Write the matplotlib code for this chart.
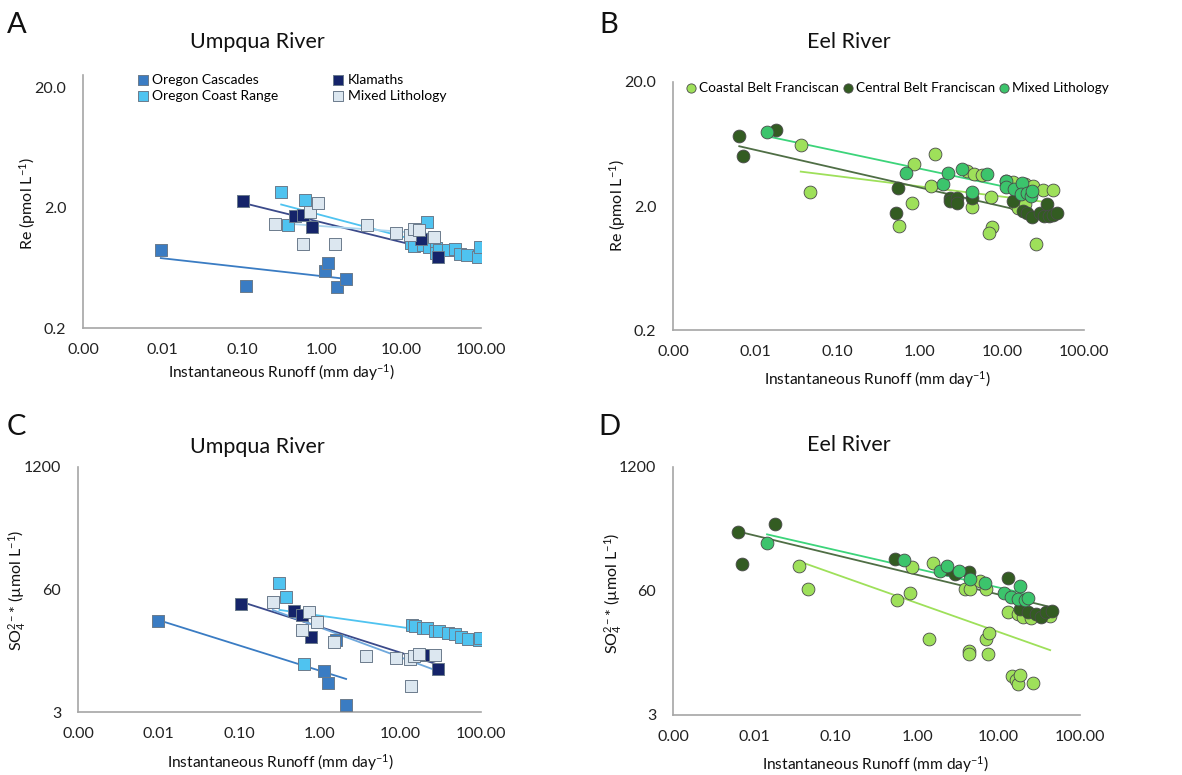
import numpy as np
import matplotlib
matplotlib.use('Agg')
import matplotlib.pyplot as plt
from matplotlib.ticker import FixedLocator, FixedFormatter, NullLocator

plt.rcParams['font.family'] = ['Lato', 'DejaVu Sans']
plt.rcParams['mathtext.fontset'] = 'custom'
plt.rcParams['mathtext.rm'] = 'Lato'
plt.rcParams['mathtext.it'] = 'Lato:italic'

# --- Panel A: Umpqua River, Re ---
a_cascades_x = [0.0095, 0.113, 1.11, 1.21, 1.54, 2.02]
a_cascades_y = [0.89, 0.45, 0.59, 0.69, 0.44, 0.51]
a_coast_x = [0.309, 0.378, 0.612, 20.8, 13.2, 14.5, 18.9, 22.3, 27.2, 27.0, 30.0, 38.2, 47.2, 55.0, 66.7, 92.7, 96.0]
a_coast_y = [2.67, 1.43, 2.29, 1.51, 1.02, 0.95, 0.97, 0.94, 0.92, 0.84, 0.89, 0.89, 0.90, 0.83, 0.80, 0.78, 0.94]
a_klamath_x = [0.103, 0.467, 0.577, 0.757, 17.7, 28.6]
a_klamath_y = [2.27, 1.70, 1.73, 1.38, 1.10, 0.78]
a_mixed_x = [0.255, 0.577, 0.72, 0.89, 1.46, 3.71, 8.57, 12.9, 14.5, 16.4, 26.0]
a_mixed_y = [1.45, 1.00, 1.82, 2.18, 0.99, 1.42, 1.22, 1.18, 1.33, 1.30, 1.13]

# --- Panel B: Eel River, Re ---
b_coastal_x = [0.0358, 0.0464, 0.86, 0.81, 0.557, 1.39, 1.56, 3.82, 4.6, 4.4, 5.8, 7.35, 7.5, 7.0,
               11.1, 13.5, 19.0, 24.0, 31.8, 42.0, 14.3, 15.7, 19.0, 26.3]
b_coastal_y = [6.2, 2.6, 4.34, 2.1, 1.37, 2.9, 5.22, 3.83, 3.6, 1.96, 3.56, 2.36, 1.35, 1.22,
               3.2, 3.1, 3.0, 2.9, 2.67, 2.67, 2.06, 1.94, 2.06, 0.99]
b_central_x = [0.0064, 0.0071, 0.0181, 0.54, 0.51, 2.33, 2.33, 2.83, 2.83, 4.3, 13.5, 18.3, 20.0,
               23.5, 28.8, 33.0, 35.6, 38.0, 41.8, 46.7]
b_central_y = [7.3, 5.06, 8.15, 2.81, 1.75, 2.33, 2.2, 2.33, 2.13, 2.33, 2.2, 1.83, 1.76,
               1.63, 1.76, 1.66, 2.06, 1.66, 1.69, 1.75]
b_mixed_x = [0.0141, 0.69, 1.9, 2.2, 3.3, 4.4, 6.6, 11.3, 11.3, 14.0, 17.6, 17.2, 20.0, 22.5, 23.0]
b_mixed_y = [7.96, 3.67, 2.99, 3.71, 4.0, 2.61, 3.64, 3.2, 2.85, 2.72, 3.09, 2.5, 2.55, 2.4, 2.64]

# --- Panel C: Umpqua River, SO4 ---
c_cascades_x = [0.0099, 1.14, 1.25, 1.61, 2.12]
c_cascades_y = [27.8, 8.1, 6.1, 17.3, 3.6]
c_coast_x = [0.316, 0.386, 0.634, 13.8, 15.2, 19.2, 21.5, 26.9, 30.4, 38.8, 47.0, 57.0, 68.7, 94.0, 96.5]
c_coast_y = [71.2, 50.0, 9.6, 25.0, 24.6, 23.6, 23.6, 21.6, 21.6, 20.5, 20.2, 19.0, 17.9, 17.4, 18.3]
c_klamath_x = [0.105, 0.474, 0.6, 0.78, 18.9, 29.6]
c_klamath_y = [42.6, 35.6, 32.0, 18.8, 12.2, 8.65]
c_mixed_x = [0.261, 0.61, 0.74, 0.93, 1.5, 3.75, 8.9, 13.3, 13.5, 14.8, 16.9, 27.1]
c_mixed_y = [44.4, 22.1, 34.7, 27.1, 16.6, 11.8, 11.3, 11.1, 5.6, 11.8, 12.3, 12.0]

# --- Panel D: Eel River, SO4 ---
d_coastal_x = [0.0357, 0.046, 0.557, 0.81, 0.87, 1.41, 1.58, 3.85, 4.5, 4.35, 4.35, 5.9, 7.1, 7.1, 7.6,
               7.4, 13.2, 14.8, 16.3, 17.1, 18.3, 17.3, 20.0, 24.8, 26.4, 43.0]
d_coastal_y = [110, 63.5, 48.3, 57.3, 108, 19.0, 119, 62.7, 63.0, 14.1, 13.2, 76.4, 63.0, 19.0, 22.0,
               13.1, 36.4, 7.7, 7.0, 6.4, 7.9, 34.6, 32.0, 31.0, 6.5, 33.0]
d_central_x = [0.0063, 0.0071, 0.0181, 0.53, 2.3, 2.9, 4.3, 13.2, 18.3, 23.0, 29.0, 33.5, 38.7, 45.5]
d_central_y = [250, 116, 306, 131, 101, 90, 94, 83, 38.5, 36.3, 34.5, 31.9, 35.9, 37.1]
d_mixed_x = [0.0143, 0.69, 1.9, 2.3, 3.3, 4.4, 6.8, 11.5, 14.1, 17.3, 18.4, 21.0, 22.9]
d_mixed_y = [193, 127, 97, 109, 97, 80, 73, 56.7, 52.4, 50.0, 68.0, 48.7, 51.0]

x_ticks = [0.001, 0.01, 0.1, 1, 10, 100]
x_tick_labels = ['0.00', '0.01', '0.10', '1.00', '10.00', '100.00']
re_ticks = [0.2, 2, 20]
re_tick_labels = ['0.2', '2.0', '20.0']
so4_ticks = [3, 60, 1200]
so4_tick_labels = ['3', '60', '1200']

# colours
COL_CASCADES = '#3a7cc3'
COL_COAST = '#4fc3f0'
COL_KLAMATH = '#15246a'
COL_MIXED_U = '#dce7f0'
COL_COASTAL = '#9ee05a'
COL_CENTRAL = '#335c22'
COL_MIXED_E = '#3cc46c'

W, H = 1182, 775
fig = plt.figure(figsize=(W / 100, H / 100), dpi=100)


def px_axes(left, right, top, bottom):
    """Axes from pixel edges."""
    return fig.add_axes([left / W, 1 - bottom / H, (right - left) / W, (bottom - top) / H])


def power_trend(ax, xs, ys, color):
    """Excel-style power trendline (linear fit in log-log) over data range."""
    lx = np.log10(xs)
    ly = np.log10(ys)
    k, q = np.polyfit(lx, ly, 1)
    xx = np.logspace(lx.min(), lx.max(), 50)
    ax.plot(xx, 10 ** (k * np.log10(xx) + q), color=color, lw=1.3, zorder=2)


def style_axes(ax, yticks, ylabels, ylim):
    ax.set_xscale('log')
    ax.set_yscale('log')
    ax.set_xlim(0.001, 100)
    ax.set_ylim(*ylim)
    ax.xaxis.set_major_locator(FixedLocator(x_ticks))
    ax.xaxis.set_major_formatter(FixedFormatter(x_tick_labels))
    ax.xaxis.set_minor_locator(NullLocator())
    ax.yaxis.set_major_locator(FixedLocator(yticks))
    ax.yaxis.set_major_formatter(FixedFormatter(ylabels))
    ax.yaxis.set_minor_locator(NullLocator())
    ax.tick_params(axis='both', length=0, labelsize=11.5, colors='#222222')
    ax.tick_params(axis='x', pad=11)
    ax.tick_params(axis='y', pad=12)
    for s in ['top', 'right']:
        ax.spines[s].set_visible(False)
    for s in ['left', 'bottom']:
        ax.spines[s].set_color('#a6a6a6')
        ax.spines[s].set_linewidth(1.2)
    ax.set_facecolor('none')


def squares(ax, xs, ys, color, label):
    ax.scatter(xs, ys, marker='s', s=85, color=color, edgecolors='#6b7b8c', linewidths=0.7,
               label=label, zorder=3)


def circles(ax, xs, ys, color, label):
    ax.scatter(xs, ys, marker='o', s=85, color=color, edgecolors='#4a4a4a', linewidths=0.6,
               label=label, zorder=3)


re_label = r'Re (pmol L$^{\mathregular{-1}}$)'
so4_label = r'SO$_{\mathregular{4}}^{\mathregular{2-}}$* (µmol L$^{\mathregular{-1}}$)'
x_label = r'Instantaneous Runoff (mm day$^{\mathregular{-1}}$)'

# Panel A
ax_a = px_axes(83, 481, 75, 328)
style_axes(ax_a, re_ticks, re_tick_labels, (0.2, 25.2))
squares(ax_a, a_cascades_x, a_cascades_y, COL_CASCADES, 'Oregon Cascades')
squares(ax_a, a_coast_x, a_coast_y, COL_COAST, 'Oregon Coast Range')
squares(ax_a, a_klamath_x, a_klamath_y, COL_KLAMATH, 'Klamaths')
squares(ax_a, a_mixed_x, a_mixed_y, COL_MIXED_U, 'Mixed Lithology')
power_trend(ax_a, a_cascades_x, a_cascades_y, COL_CASCADES)
power_trend(ax_a, a_coast_x, a_coast_y, COL_COAST)
power_trend(ax_a, a_klamath_x, a_klamath_y, '#3b4a8a')
power_trend(ax_a, a_mixed_x, a_mixed_y, '#a9d4ee')
ax_a.legend(loc='upper left', bbox_to_anchor=((137 - 83) / 398, 1.005), ncol=2, frameon=False,
            fontsize=10, handlelength=0.8, handletextpad=0.3, columnspacing=3.9,
            labelspacing=0.3, markerscale=0.72, borderaxespad=0, borderpad=0)

# Panel B
ax_b = px_axes(673, 1084, 82, 330)
style_axes(ax_b, re_ticks, re_tick_labels, (0.2, 20))
circles(ax_b, b_coastal_x, b_coastal_y, COL_COASTAL, 'Coastal Belt Franciscan')
circles(ax_b, b_central_x, b_central_y, COL_CENTRAL, 'Central Belt Franciscan')
circles(ax_b, b_mixed_x, b_mixed_y, COL_MIXED_E, 'Mixed Lithology')
power_trend(ax_b, b_coastal_x, b_coastal_y, COL_COASTAL)
power_trend(ax_b, b_central_x, b_central_y, '#4f6e45')
power_trend(ax_b, b_mixed_x, b_mixed_y, '#3cd47a')
ax_b.legend(loc='upper left', bbox_to_anchor=((686 - 673) / 411, 1.0), ncol=3, frameon=False,
            fontsize=9.8, handlelength=0.8, handletextpad=0.15, columnspacing=0.3,
            markerscale=0.72, borderaxespad=0, borderpad=0)

# Panel C
ax_c = px_axes(78, 481, 467, 712)
style_axes(ax_c, so4_ticks, so4_tick_labels, (3, 1200))
squares(ax_c, c_cascades_x, c_cascades_y, COL_CASCADES, 'Oregon Cascades')
squares(ax_c, c_coast_x, c_coast_y, COL_COAST, 'Oregon Coast Range')
squares(ax_c, c_klamath_x, c_klamath_y, COL_KLAMATH, 'Klamaths')
squares(ax_c, c_mixed_x, c_mixed_y, COL_MIXED_U, 'Mixed Lithology')
power_trend(ax_c, c_cascades_x, c_cascades_y, COL_CASCADES)
power_trend(ax_c, c_coast_x, c_coast_y, COL_COAST)
power_trend(ax_c, c_klamath_x, c_klamath_y, '#3b4a8a')
power_trend(ax_c, c_mixed_x, c_mixed_y, '#6fa8dc')

# Panel D
ax_d = px_axes(673, 1080, 467, 715)
style_axes(ax_d, so4_ticks, so4_tick_labels, (3, 1200))
circles(ax_d, d_coastal_x, d_coastal_y, COL_COASTAL, 'Coastal Belt Franciscan')
circles(ax_d, d_central_x, d_central_y, COL_CENTRAL, 'Central Belt Franciscan')
circles(ax_d, d_mixed_x, d_mixed_y, COL_MIXED_E, 'Mixed Lithology')
power_trend(ax_d, d_coastal_x, d_coastal_y, COL_COASTAL)
power_trend(ax_d, d_central_x, d_central_y, '#4f6e45')
power_trend(ax_d, d_mixed_x, d_mixed_y, '#3cd47a')

# titles, letters and axis labels placed in figure pixels
def ftext(x, y, s, **kw):
    fig.text(x / W, 1 - y / H, s, ha='center', va='center', color='#111111', **kw)


ftext(257, 42, 'Umpqua River', fontsize=15.5)
ftext(849, 42, 'Eel River', fontsize=15.5)
ftext(257, 447, 'Umpqua River', fontsize=15.5)
ftext(849, 445, 'Eel River', fontsize=15.5)

ftext(17, 25, 'A', fontsize=21)
ftext(609, 25, 'B', fontsize=21)
ftext(16, 427, 'C', fontsize=21)
ftext(609, 427, 'D', fontsize=21)

ftext(282, 373, x_label, fontsize=11.2)
ftext(878, 380, x_label, fontsize=11.2)
ftext(281, 763, x_label, fontsize=11.2)
ftext(876, 765, x_label, fontsize=11.2)

ftext(28, 203, re_label, fontsize=11.5, rotation=90)
ftext(618, 205, re_label, fontsize=11.5, rotation=90)
ftext(17, 590, so4_label, fontsize=11.5, rotation=90)
ftext(613, 593, so4_label, fontsize=11.5, rotation=90)

fig.savefig('out.png', dpi=100)
